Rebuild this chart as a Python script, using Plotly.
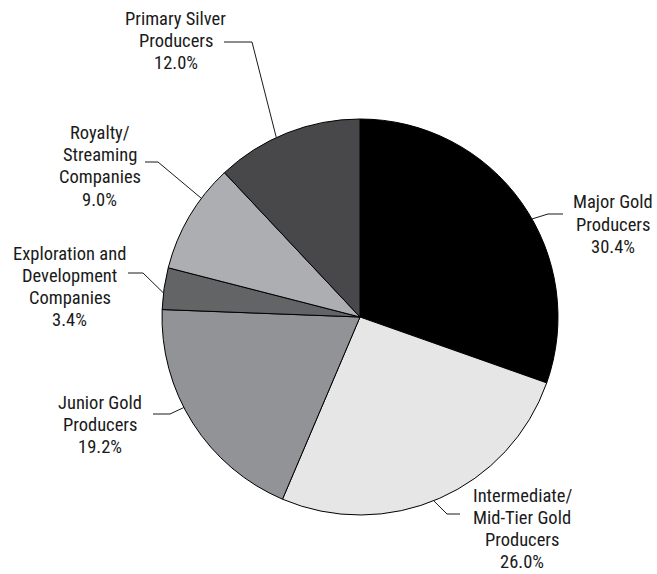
import math
import plotly.graph_objects as go

categories = ["Major Gold Producers", "Intermediate/Mid-Tier Gold Producers",
              "Junior Gold Producers", "Exploration and Development Companies",
              "Royalty/Streaming Companies", "Primary Silver Producers"]
values = [30.4, 26.0, 19.2, 3.4, 9.0, 12.0]
label_lines = [["Major Gold", "Producers"],
               ["Intermediate/", "Mid-Tier Gold", "Producers"],
               ["Junior Gold", "Producers"],
               ["Exploration and", "Development", "Companies"],
               ["Royalty/", "Streaming", "Companies"],
               ["Primary Silver", "Producers"]]
colors = ["#000000", "#e6e6e7", "#929396", "#636466", "#adaeb1", "#48484a"]

W, H = 657, 574
CX, CY, R = 360, 317, 198
LINE_GAP = 22.2

# label layout (style): leader angle offset (deg), elbow point, line end, text center x, first line y
layout_style = [
    dict(dang=5.6, elbow=(548, 214), end=(563, 214), tx=613, ty=201.5),
    dict(dang=1.9, elbow=(447, 514), end=(460, 514), tx=522, ty=494.5),
    dict(dang=5.2, elbow=(170, 414), end=(153, 414), tx=99.5, ty=402),
    dict(dang=-1.3, elbow=(143, 273), end=(128, 273), tx=69.5, ty=252.5),
    dict(dang=6.2, elbow=(158, 162), end=(145, 162), tx=99.5, ty=132),
    dict(dang=-3.4, elbow=(252, 42), end=(224, 42), tx=175.5, ty=18),
]

def px(x):
    return x / W

def py(y):
    return 1 - y / H

fig = go.Figure(go.Pie(
    labels=categories, values=values, sort=False, direction="clockwise",
    rotation=0, marker=dict(colors=colors, line=dict(color="#000000", width=1)),
    textinfo="none", hoverinfo="label+percent", showlegend=False,
    domain=dict(x=[px(CX - R), px(CX + R)], y=[py(CY + R), py(CY - R)]),
))

total = sum(values)
cum = 0
shapes = []
annotations = []
font = dict(family="Liberation Sans Narrow, Roboto Condensed, Arial Narrow, Roboto, sans-serif",
            size=18.5, color="#1a1a1a")
for v, lines, st in zip(values, label_lines, layout_style):
    mid = (cum + v / 2) / total * 360 + st["dang"]
    cum += v
    a = math.radians(mid)
    sx = CX + R * math.sin(a)
    sy = CY - R * math.cos(a)
    ex, ey = st["elbow"]
    fx, fy = st["end"]
    shapes.append(dict(type="line", xref="paper", yref="paper",
                       x0=px(sx), y0=py(sy), x1=px(ex), y1=py(ey),
                       line=dict(color="#1a1a1a", width=1)))
    shapes.append(dict(type="line", xref="paper", yref="paper",
                       x0=px(ex), y0=py(ey), x1=px(fx), y1=py(fy),
                       line=dict(color="#1a1a1a", width=1)))
    all_lines = lines + [f"{v:.1f}%"]
    for i, t in enumerate(all_lines):
        annotations.append(dict(text=t, x=px(st["tx"]), y=py(st["ty"] + 1 + i * LINE_GAP),
                                xref="paper", yref="paper", showarrow=False,
                                xanchor="center", yanchor="middle", align="center",
                                font=font))

fig.update_layout(width=W, height=H, margin=dict(l=0, r=0, t=0, b=0),
                  paper_bgcolor="white", plot_bgcolor="white",
                  shapes=shapes, annotations=annotations)
fig.write_html("out.html")
